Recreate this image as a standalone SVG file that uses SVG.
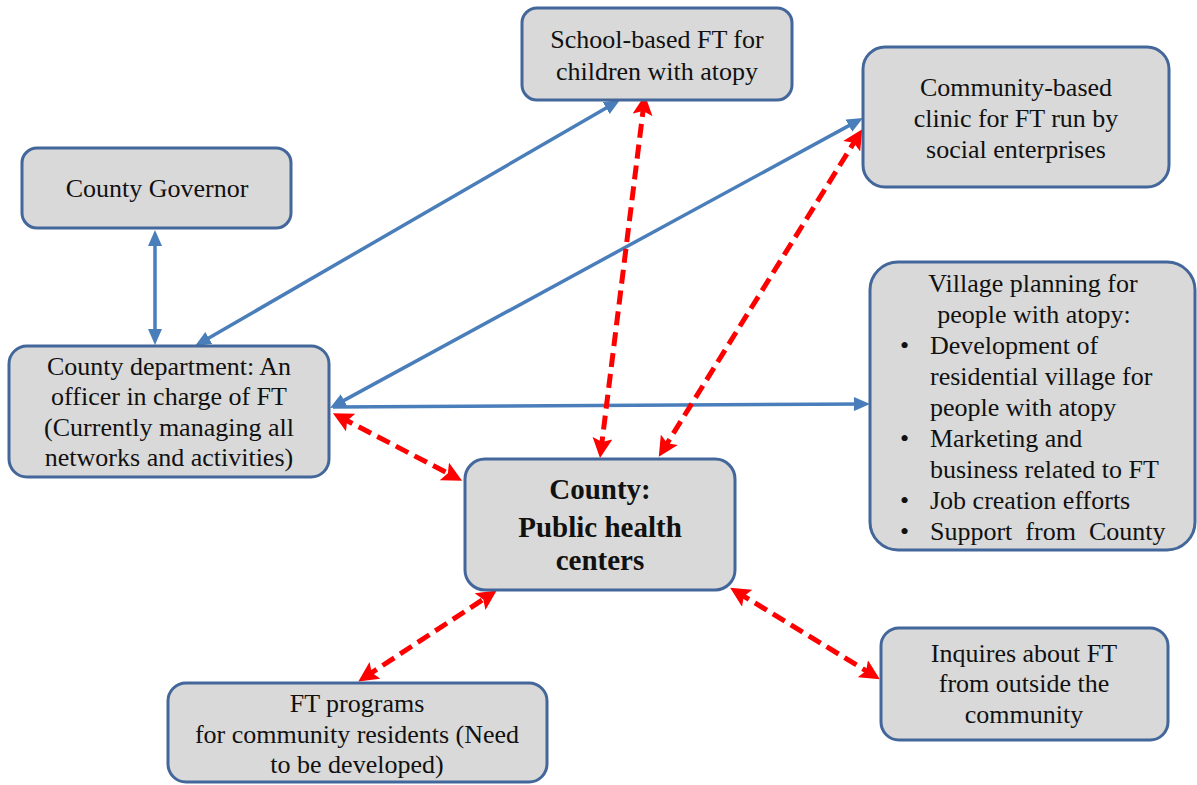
<svg xmlns="http://www.w3.org/2000/svg" width="1197" height="785" viewBox="0 0 1197 785">
<style>
.box{fill:#d9d9d9;stroke:#43679a;stroke-width:3}
.t{font-family:"Liberation Serif","Times New Roman",serif;font-size:26px;fill:#111}
.c{text-anchor:middle}
.b{font-weight:bold;font-size:29px}
.blue{stroke:#4a7ebb;stroke-width:3.5;fill:none}
.red{stroke:#ff0000;stroke-width:5;fill:none;stroke-dasharray:14 7}
</style>
<defs>
<marker id="bA" markerUnits="userSpaceOnUse" markerWidth="18" markerHeight="14" refX="10" refY="7" orient="auto-start-reverse"><path d="M0,0 L16,7 L0,14 z" fill="#4a7ebb"/></marker>
<marker id="rA" markerUnits="userSpaceOnUse" markerWidth="22" markerHeight="20" refX="12" refY="10" orient="auto-start-reverse"><path d="M0,0 L20,10 L0,20 L4,10 z" fill="#ff0000"/></marker>
</defs>
<g id="connectors">
<line class="blue" x1="155" y1="236" x2="155" y2="339" marker-start="url(#bA)" marker-end="url(#bA)"/>
<line class="blue" x1="614.8" y1="103" x2="200.2" y2="343" marker-start="url(#bA)" marker-end="url(#bA)"/>
<line class="blue" x1="857.7" y1="120.9" x2="335.3" y2="405.1" marker-start="url(#bA)" marker-end="url(#bA)"/>
<line class="blue" x1="333" y1="407" x2="864" y2="404" marker-end="url(#bA)"/>
<line class="red" x1="340" y1="417" x2="455" y2="477" marker-start="url(#rA)" marker-end="url(#rA)"/>
<line class="red" x1="644" y1="103" x2="601" y2="450" marker-start="url(#rA)" marker-end="url(#rA)"/>
<line class="red" x1="858" y1="136" x2="663" y2="450" marker-start="url(#rA)" marker-end="url(#rA)"/>
<line class="red" x1="365" y1="677" x2="490" y2="595" marker-start="url(#rA)" marker-end="url(#rA)"/>
<line class="red" x1="737" y1="592" x2="873" y2="675" marker-start="url(#rA)" marker-end="url(#rA)"/>
</g>
<g id="governor">
<rect class="box" x="22" y="148" width="269" height="80" rx="15"/>
<text class="t c" x="157" y="197">County Governor</text>
</g>
<g id="school">
<rect class="box" x="522" y="8" width="270" height="92" rx="15"/>
<text class="t c" x="657" y="48">School-based FT for</text>
<text class="t c" x="657" y="80">children with atopy</text>
</g>
<g id="clinic">
<rect class="box" x="863" y="47" width="306" height="140" rx="22"/>
<text class="t c" x="1016" y="96">Community-based</text>
<text class="t c" x="1016" y="127">clinic for FT run by</text>
<text class="t c" x="1016" y="158">social enterprises</text>
</g>
<g id="department">
<rect class="box" x="9" y="346" width="320" height="131" rx="18"/>
<text class="t c" x="169" y="375">County department: An</text>
<text class="t c" x="169" y="405">officer in charge of FT</text>
<text class="t c" x="169" y="436">(Currently managing all</text>
<text class="t c" x="169" y="466">networks and activities)</text>
</g>
<g id="public-health">
<rect class="box" x="465" y="459" width="270" height="131" rx="20"/>
<text class="t c b" x="600" y="499">County:</text>
<text class="t c b" x="600" y="537">Public health</text>
<text class="t c b" x="600" y="570">centers</text>
</g>
<g id="village">
<rect class="box" x="870" y="262" width="325" height="288" rx="28"/>
<text class="t c" x="1033" y="292">Village planning for</text>
<text class="t c" x="1034" y="323">people with atopy:</text>
<text class="t" x="900" y="354">•</text><text class="t" x="930" y="354">Development of</text>
<text class="t" x="930" y="385">residential village for</text>
<text class="t" x="930" y="416">people with atopy</text>
<text class="t" x="900" y="447">•</text><text class="t" x="930" y="447">Marketing and</text>
<text class="t" x="930" y="478">business related to FT</text>
<text class="t" x="900" y="509">•</text><text class="t" x="930" y="509">Job creation efforts</text>
<text class="t" x="900" y="540">•</text><text class="t" x="930" y="540" xml:space="preserve">Support  from  County</text>
</g>
<g id="ft-programs">
<rect class="box" x="168" y="683" width="379" height="99" rx="18"/>
<text class="t c" x="357" y="712">FT programs</text>
<text class="t c" x="357" y="743">for community residents (Need</text>
<text class="t c" x="357" y="773">to be developed)</text>
</g>
<g id="inquires">
<rect class="box" x="881" y="628" width="287" height="112" rx="18"/>
<text class="t c" x="1024" y="662">Inquires about FT</text>
<text class="t c" x="1024" y="692">from outside the</text>
<text class="t c" x="1024" y="723">community</text>
</g>
</svg>
